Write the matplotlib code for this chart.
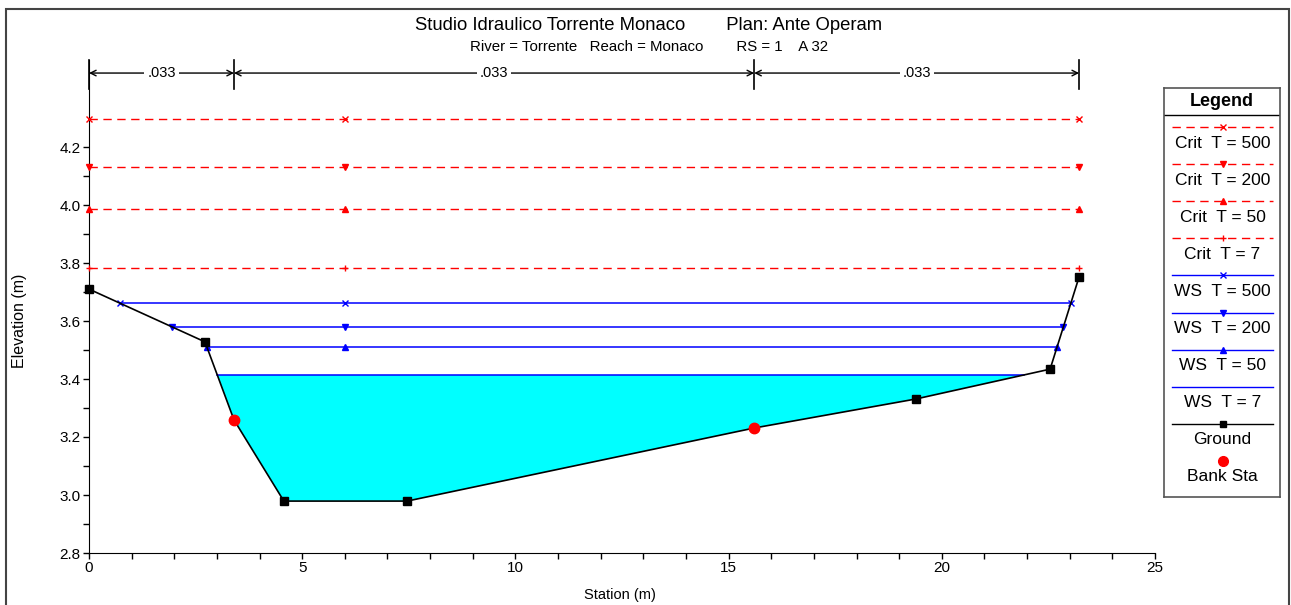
import matplotlib
matplotlib.use("Agg")
import matplotlib.pyplot as plt
from matplotlib.patches import Rectangle
from matplotlib.lines import Line2D

plt.rcParams['font.family'] = ['Liberation Sans', 'DejaVu Sans']

# ground geometry (station, elevation)
ground_sta = [0.0, 2.72, 3.40, 4.57, 7.46, 15.60, 19.39, 22.54, 23.22]
ground_elev = [3.710, 3.528, 3.259, 2.979, 2.979, 3.231, 3.331, 3.434, 3.752]
bank_sta = [3.40, 15.60]
bank_elev = [3.259, 3.231]

# water surfaces
ws_names = ['WS  T = 500', 'WS  T = 200', 'WS  T = 50', 'WS  T = 7']
ws_elev = [3.662, 3.579, 3.510, 3.414]
crit_names = ['Crit  T = 500', 'Crit  T = 200', 'Crit  T = 50', 'Crit  T = 7']
crit_elev = [4.297, 4.131, 3.986, 3.783]
mid_marker_sta = 6.0

# manning n per subsection
n_values = ['.033', '.033', '.033']
n_edges = [0.0, 3.40, 15.60, 23.22]

ws_markers = ['x', 'v', '^', None]
crit_markers = ['x', 'v', '^', '+']


def ground_crossings(level):
    left = right = None
    for i in range(len(ground_sta) - 1):
        y0, y1 = ground_elev[i], ground_elev[i + 1]
        if y0 >= level >= y1:
            x0, x1 = ground_sta[i], ground_sta[i + 1]
            left = x0 + (y0 - level) / (y0 - y1) * (x1 - x0)
            break
    for i in range(len(ground_sta) - 2, -1, -1):
        y0, y1 = ground_elev[i], ground_elev[i + 1]
        if y0 <= level <= y1:
            x0, x1 = ground_sta[i], ground_sta[i + 1]
            right = x0 + (level - y0) / (y1 - y0) * (x1 - x0)
            break
    return left, right


fig = plt.figure(figsize=(12.91, 6.05), dpi=100)
ax = fig.add_axes([89 / 1291, 1 - 553 / 605, (1155 - 89) / 1291, (553 - 60) / 605])

# water fill for lowest WS
lvl = ws_elev[-1]
xl, xr = ground_crossings(lvl)
poly_x = [xl] + [s for s in ground_sta if xl < s < xr] + [xr]
poly_y = [lvl] + [e for s, e in zip(ground_sta, ground_elev) if xl < s < xr] + [lvl]
ax.fill(poly_x, poly_y, color='#00FFFF', lw=0, zorder=1)

# critical lines
for elev, m in zip(crit_elev, crit_markers):
    x0, x1 = ground_sta[0], ground_sta[-1]
    ax.plot([x0, x1], [elev, elev], color='red', ls=(0, (6, 4)), lw=1, zorder=2)
    ax.plot([x0, mid_marker_sta, x1], [elev] * 3, ls='none', marker=m, color='red',
            ms=5, mew=1, zorder=3, clip_on=False)

# water surfaces
for elev, m in zip(ws_elev, ws_markers):
    a, b = ground_crossings(elev)
    ax.plot([a, b], [elev, elev], color='blue', lw=1.1, zorder=2)
    if m:
        ax.plot([a, mid_marker_sta, b], [elev] * 3, ls='none', marker=m, color='blue',
                ms=5, mew=1, zorder=3)

# ground (squares except where bank stations sit)
ax.plot(ground_sta, ground_elev, color='black', lw=1.2, zorder=4)
sq = [(s, e) for s, e in zip(ground_sta, ground_elev) if s not in bank_sta]
ax.plot([p[0] for p in sq], [p[1] for p in sq], ls='none', color='black', marker='s',
        ms=5.5, zorder=4, clip_on=False)
ax.plot(bank_sta, bank_elev, ls='none', marker='o', color='red', ms=7.5, zorder=5)

ax.set_xlim(0, 25)
ax.set_ylim(2.8, 4.5)
ax.set_xticks([0, 5, 10, 15, 20, 25])
ax.set_xticks(range(0, 26), minor=True)
ax.set_yticks([2.8, 3.0, 3.2, 3.4, 3.6, 3.8, 4.0, 4.2])
ax.set_yticks([2.8 + 0.1 * i for i in range(15)], minor=True)
ax.yaxis.set_major_formatter(plt.FormatStrFormatter('%.1f'))
ax.tick_params(which='both', direction='out', length=4, width=1, labelsize=11, pad=2)
for side in ('top', 'right'):
    ax.spines[side].set_visible(False)
ax.set_xlabel('Station (m)', fontsize=10.5)
ax.set_ylabel('Elevation (m)', fontsize=11.5)
ax.xaxis.set_label_coords(0.498, -0.072)
ax.yaxis.set_label_coords(-0.058, 0.47)

# n-value dimension lines
dim_y = 4.455
for x in n_edges:
    ax.plot([x, x], [4.4, 4.5], color='black', lw=1.2, clip_on=False)
for lab, a, b in zip(n_values, n_edges[:-1], n_edges[1:]):
    mid = (a + b) / 2
    ax.annotate('', xy=(a, dim_y), xytext=(mid, dim_y),
                arrowprops=dict(arrowstyle='->', lw=1, color='black', shrinkA=0, shrinkB=0))
    ax.annotate('', xy=(b, dim_y), xytext=(mid, dim_y),
                arrowprops=dict(arrowstyle='->', lw=1, color='black', shrinkA=0, shrinkB=0))
    ax.text(mid, dim_y, lab, ha='center', va='center', fontsize=10.5,
            bbox=dict(facecolor='white', edgecolor='none', pad=2))

# titles
fig.text(649 / 1291, 1 - 25 / 605, 'Studio Idraulico Torrente Monaco        Plan: Ante Operam',
         ha='center', va='center', fontsize=13.3)
fig.text(649 / 1291, 1 - 47 / 605, 'River = Torrente   Reach = Monaco        RS = 1    A 32',
         ha='center', va='center', fontsize=10.8)

# outer border
fig.patches.append(Rectangle((6 / 1291, -0.01), 1283 / 1291, 1 - 9 / 605 + 0.01,
                             transform=fig.transFigure, fill=False, ec='#444444', lw=1.5))

# legend box
lax = fig.add_axes([1164 / 1291, 1 - 497 / 605, 116 / 1291, 409 / 605])
lax.set_xlim(0, 116)
lax.set_ylim(409, 0)
lax.set_xticks([])
lax.set_yticks([])
for s in lax.spines.values():
    s.set_color('#555555')
    s.set_linewidth(1.2)
lax.text(58, 13, 'Legend', ha='center', va='center', fontsize=13, fontweight='bold')
lax.plot([0, 116], [27, 27], color='black', lw=1)

leg_labels = crit_names + ws_names + ['Ground', 'Bank Sta']
leg_styles = ([dict(color='red', ls=(0, (6, 4)), marker=m) for m in crit_markers]
              + [dict(color='blue', ls='-', marker=m if m else 'None') for m in ws_markers]
              + [dict(color='black', ls='-', marker='s'), dict(color='red', ls='None', marker='o')])
for i, (lab, st) in enumerate(zip(leg_labels, leg_styles)):
    yl = 39 + 37.1 * i
    yt = 55 + 37.1 * i
    ms = 7 if st['marker'] == 'o' else 5
    lax.add_line(Line2D([8, 109], [yl, yl], color=st['color'], ls=st['ls'], lw=1))
    lax.plot([58.5], [yl], marker=st['marker'], color=st['color'], ms=ms, ls='None')
    lax.text(58.5, yt, lab, ha='center', va='center', fontsize=12.5)

fig.savefig('out.png', dpi=100)
